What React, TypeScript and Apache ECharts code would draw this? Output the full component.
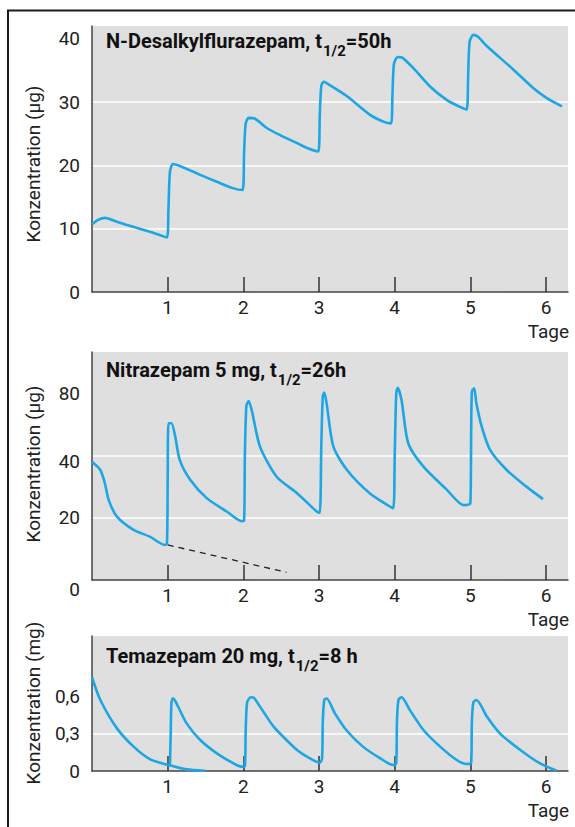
import React, { useEffect, useRef } from 'react';
import * as echarts from 'echarts';

// ---------- data ----------
const dayTicks = [1, 2, 3, 4, 5, 6];

// Panel 1: N-Desalkylflurazepam (µg), linear axis
const fluraTicks = [0, 10, 20, 30, 40];
const fluraCurve: [number, number][] = [
  [0, 10.7], [0.08, 11.4], [0.17, 11.7], [0.33, 11.1], [0.54, 10.3], [0.77, 9.5], [0.99, 8.6],
  [1.01, 13], [1.03, 19], [1.07, 20.2], [1.2, 19.7], [1.43, 18.5], [1.65, 17.4], [1.86, 16.4], [1.99, 16.1],
  [2.01, 22], [2.03, 26.5], [2.07, 27.5], [2.15, 27.4], [2.31, 25.9], [2.48, 24.8], [2.71, 23.5], [2.85, 22.7], [2.99, 22.2],
  [3.01, 28], [3.03, 32.5], [3.06, 33.2], [3.15, 32.6], [3.37, 30.9], [3.67, 28.0], [3.85, 26.9], [3.95, 26.6],
  [3.97, 31], [3.99, 36], [4.04, 37.1], [4.1, 37.0], [4.25, 35.3], [4.47, 32.4], [4.69, 30.3], [4.85, 29.3], [4.95, 28.8],
  [4.97, 34], [4.99, 39.5], [5.04, 40.6], [5.1, 40.3], [5.22, 38.8], [5.57, 35.1], [5.83, 32.2], [6.01, 30.6], [6.21, 29.3],
];

// Panel 2: Nitrazepam 5 mg (µg), logarithmic axis (bottom line labelled "0")
const nitraTicks = [10, 20, 40, 80];
const nitraCurve: [number, number][] = [
  [0, 37.5], [0.11, 34.2], [0.17, 29.5], [0.22, 24.5], [0.33, 20.3], [0.55, 17.5], [0.77, 16.2], [0.96, 14.8],
  [0.99, 15], [1.0, 30], [1.01, 57.7], [1.05, 57.7], [1.1, 49.6], [1.16, 38.2], [1.3, 30.6], [1.52, 24.9], [1.78, 21.5], [1.98, 19.3],
  [2.01, 19.5], [2.02, 40], [2.04, 70], [2.07, 74], [2.11, 66.9], [2.22, 44.4], [2.44, 31.7], [2.71, 26.4], [2.97, 21.5], [3.01, 21.2],
  [3.03, 45], [3.05, 78], [3.07, 81.3], [3.1, 72], [3.19, 44.4], [3.37, 34.2], [3.67, 26.4], [3.98, 22.3],
  [4.0, 40], [4.02, 80], [4.04, 85.8], [4.09, 74.8], [4.18, 46], [4.38, 35.5], [4.69, 27.4], [4.91, 23.1], [5.0, 23.6],
  [5.01, 50], [5.02, 82], [5.05, 85.3], [5.08, 72], [5.15, 55.5], [5.26, 42.8], [5.48, 34.2], [5.74, 28.4], [5.96, 24.7],
];
const nitraExtrapolation: [number, number][] = [[1.0, 14.8], [2.57, 10.9]];

// Panel 3: Temazepam 20 mg (mg), linear axis
const temaTicks = [0, 0.3, 0.6];
const temaFirstDose: [number, number][] = [
  [0, 0.75], [0.11, 0.568], [0.33, 0.341], [0.55, 0.195], [0.77, 0.093], [1.01, 0.048], [1.25, 0.013], [1.49, 0.002],
];
const temaRepeated: [number, number][] = [
  [1.03, 0.045], [1.04, 0.3], [1.05, 0.55], [1.07, 0.581], [1.1, 0.56], [1.16, 0.488], [1.25, 0.381], [1.43, 0.248],
  [1.65, 0.141], [1.87, 0.061], [1.97, 0.035], [2.02, 0.04],
  [2.03, 0.3], [2.05, 0.55], [2.1, 0.59], [2.14, 0.585], [2.22, 0.515], [2.4, 0.355], [2.57, 0.248], [2.71, 0.168], [2.84, 0.115], [3.01, 0.067],
  [3.04, 0.1], [3.05, 0.4], [3.07, 0.57], [3.1, 0.58], [3.21, 0.461], [3.36, 0.328], [3.58, 0.195], [3.81, 0.101], [3.98, 0.048],
  [4.02, 0.06], [4.03, 0.4], [4.05, 0.57], [4.09, 0.59], [4.2, 0.488], [4.38, 0.328], [4.6, 0.195], [4.82, 0.088], [4.95, 0.056],
  [5.01, 0.063], [5.02, 0.4], [5.04, 0.55], [5.08, 0.568], [5.22, 0.434], [5.39, 0.301], [5.66, 0.168], [5.92, 0.061], [6.14, 0.002],
];

// ---------- helpers ----------
const FONT = 'Roboto';
const BLUE = '#1ca6e4';
const toLog = (c: number) => Math.log2(c / 10);

const xAxisFor = (gridIndex: number) => ({
  type: 'value',
  gridIndex,
  min: 0,
  max: 6.29,
  interval: 1,
  axisLine: { show: true, onZero: false, lineStyle: { color: '#444', width: 1.5 } },
  axisTick: { show: true, inside: true, length: 15, customValues: dayTicks, lineStyle: { color: '#333', width: 1.5 } },
  axisLabel: { customValues: dayTicks, margin: 6, fontSize: 19, lineHeight: 19, color: '#222', fontFamily: FONT },
  splitLine: { show: false },
});

const yAxisBase = {
  type: 'value',
  axisLine: { show: true, onZero: false, lineStyle: { color: '#444', width: 1.5 } },
  splitLine: { show: true, showMinLine: false, showMaxLine: false, lineStyle: { color: '#ffffff', width: 1.5 } },
};

const lineSeries = (xi: number, data: [number, number][], extra: any = {}) => ({
  type: 'line',
  xAxisIndex: xi,
  yAxisIndex: xi,
  data,
  symbol: 'none',
  showSymbol: false,
  smooth: 0.25,
  lineStyle: { color: BLUE, width: 2.6 },
  silent: true,
  z: 3,
  ...extra,
});

const titleRich = {
  b: { fontFamily: FONT, fontWeight: 'bold', fontSize: 20, lineHeight: 22, verticalAlign: 'top', color: '#111' },
  s: { fontFamily: FONT, fontWeight: 'bold', fontSize: 15, lineHeight: 15, padding: [12, 0, 0, 1], verticalAlign: 'top', color: '#111' },
};

const titleFor = (text: string, top: number) => ({
  text,
  left: 100,
  top,
  z: 1,
  padding: [3, 11, 0, 6],
  backgroundColor: '#dfdfdf',
  textStyle: { rich: titleRich },
});

const axisTitle = (text: string, y: number) => ({
  type: 'text',
  x: 33,
  y,
  rotation: Math.PI / 2,
  style: { text, fontFamily: FONT, fontSize: 19, fill: '#222', align: 'center', verticalAlign: 'middle' },
});

const tageLabel = (y: number) => ({
  type: 'text',
  x: 569,
  y,
  style: { text: 'Tage', fontFamily: FONT, fontSize: 19, lineHeight: 19, fill: '#222', align: 'right', verticalAlign: 'middle' },
});

export default function App() {
  const ref = useRef<HTMLDivElement>(null);

  useEffect(() => {
    if (!ref.current) return;
    const chart = echarts.init(ref.current, undefined, { renderer: 'svg' });
    const gridStyle = { show: true, backgroundColor: '#dfdfdf', borderWidth: 0, containLabel: false };

    chart.setOption({
      animation: false,
      backgroundColor: '#ffffff',
      title: [
        titleFor('{b|N-Desalkylflurazepam, t}{s|1/2}{b|=50h}', 28),
        titleFor('{b|Nitrazepam 5 mg, t}{s|1/2}{b|=26h}', 357),
        titleFor('{b|Temazepam 20 mg, t}{s|1/2}{b|=8 h}', 643),
      ],
      grid: [
        { ...gridStyle, left: 92, top: 26, width: 476, height: 266 },
        { ...gridStyle, left: 92, top: 352, width: 476, height: 228 },
        { ...gridStyle, left: 92, top: 636, width: 476, height: 135 },
      ],
      xAxis: [xAxisFor(0), xAxisFor(1), xAxisFor(2)],
      yAxis: [
        {
          ...yAxisBase,
          gridIndex: 0,
          min: 0,
          max: 42,
          interval: 10,
          axisTick: { show: false, customValues: fluraTicks },
          axisLabel: { customValues: fluraTicks, margin: 12, fontSize: 19, color: '#222', fontFamily: FONT },
        },
        {
          ...yAxisBase,
          gridIndex: 1,
          min: 0,
          max: 3.677,
          interval: 1,
          axisTick: { show: false, customValues: nitraTicks.map(toLog) },
          axisLabel: {
            customValues: nitraTicks.map(toLog),
            margin: 12,
            fontSize: 19,
            color: '#222',
            fontFamily: FONT,
            formatter: (v: number) => {
              const c = Math.round(10 * Math.pow(2, v));
              if (c === 10) return '{z|0}';
              if (c === 40) return '{f|40}';
              return '{n|' + c + '}';
            },
            rich: {
              z: { fontSize: 19, fontFamily: FONT, color: '#222', padding: [18, 0, 0, 0] },
              f: { fontSize: 19, fontFamily: FONT, color: '#222', padding: [12, 0, 0, 0] },
              n: { fontSize: 19, fontFamily: FONT, color: '#222' },
            },
          },
        },
        {
          ...yAxisBase,
          gridIndex: 2,
          min: 0,
          max: 1.08,
          interval: 0.3,
          axisTick: { show: false, customValues: temaTicks },
          axisLabel: {
            customValues: temaTicks,
            margin: 12,
            fontSize: 19,
            color: '#222',
            fontFamily: FONT,
            formatter: (v: number) => String(Math.round(v * 10) / 10).replace('.', ','),
          },
        },
      ],
      series: [
        lineSeries(0, fluraCurve, { name: 'N-Desalkylflurazepam' }),
        lineSeries(1, nitraCurve.map(([d, c]) => [d, toLog(c)]) as [number, number][], { name: 'Nitrazepam' }),
        lineSeries(1, nitraExtrapolation.map(([d, c]) => [d, toLog(c)]) as [number, number][], {
          name: 'Nitrazepam Einzeldosis',
          smooth: false,
          lineStyle: { color: '#222', width: 1.3, type: [6, 5] },
          z: 2,
        }),
        lineSeries(2, temaFirstDose, { name: 'Temazepam Einzeldosis' }),
        lineSeries(2, temaRepeated, { name: 'Temazepam' }),
      ],
      graphic: [
        {
          type: 'polyline',
          shape: { points: [[8, 827], [8, 10.5], [575, 10.5]] },
          style: { stroke: '#1a1a1a', lineWidth: 2, fill: 'none' },
          silent: true,
        },
        axisTitle('Konzentration (μg)', 164),
        axisTitle('Konzentration (μg)', 464),
        axisTitle('Konzentration (mg)', 703),
        tageLabel(331),
        tageLabel(619),
        tageLabel(810),
      ],
    });

    return () => chart.dispose();
  }, []);

  return (
    <div
      ref={ref}
      style={{ position: 'absolute', left: 0, top: 0, width: 575, height: 827, background: '#fff' }}
    />
  );
}
